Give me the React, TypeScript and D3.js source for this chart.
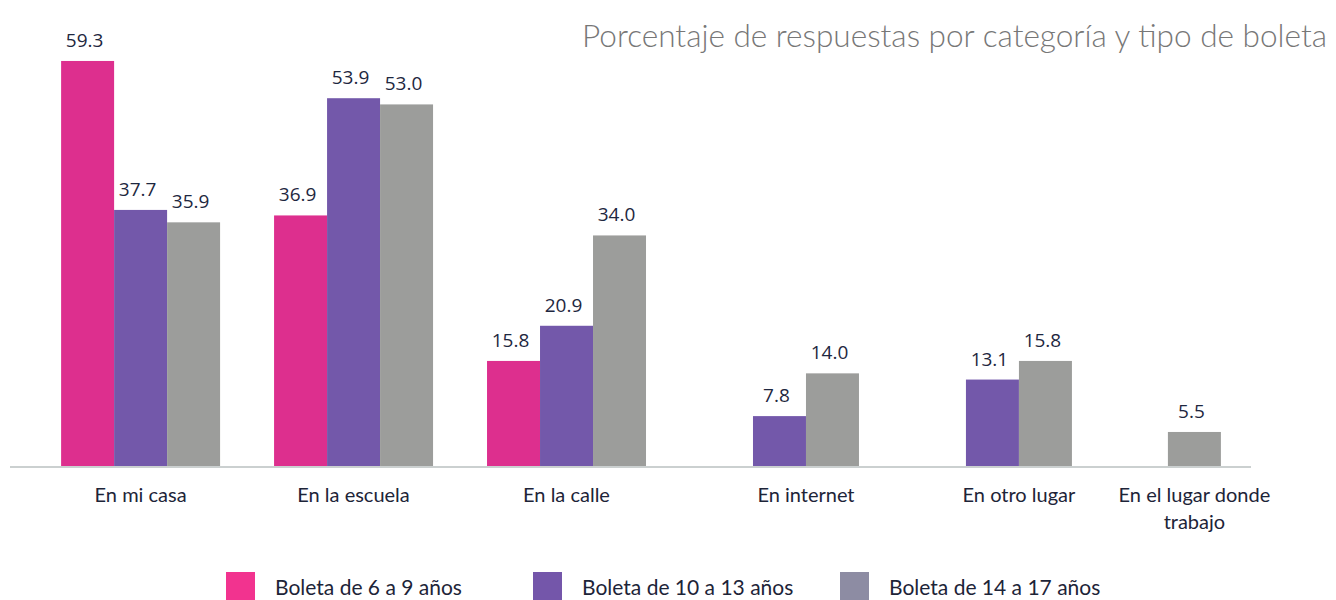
import React, { useEffect, useRef } from "react";
import * as d3 from "d3";

const categories = [
  "En mi casa",
  "En la escuela",
  "En la calle",
  "En internet",
  "En otro lugar",
  "En el lugar donde trabajo",
];
const seriesNames = ["Boleta de 6 a 9 años", "Boleta de 10 a 13 años", "Boleta de 14 a 17 años"];
// null = la boleta no tiene esa opción
const boleta6a9 = [59.3, 36.9, 15.8, null, null, null];
const boleta10a13 = [37.7, 53.9, 20.9, 7.8, 13.1, null];
const boleta14a17 = [35.9, 53.0, 34.0, 14.0, 15.8, 5.5];
const barColors = ["#dd2f8e", "#7358aa", "#9c9d9b"];
const legendColors = ["#f2338f", "#7456aa", "#8d8ca3"];

const W = 1336;
const H = 600;
const FONT = "Lato, 'Liberation Sans', sans-serif";

function App() {
  const ref = useRef<SVGSVGElement>(null);

  useEffect(() => {
    const svg = d3.select(ref.current);
    svg.selectAll("*").remove();

    const values = [boleta6a9, boleta10a13, boleta14a17];

    const x0 = d3.scaleBand<string>()
      .domain(categories)
      .range([10, 1336])
      .paddingInner(0.2535)
      .paddingOuter(0.24);

    const x1 = d3.scaleBand<string>()
      .domain(seriesNames)
      .range([0, x0.bandwidth()]);

    const y = d3.scaleLinear().domain([0, 60]).range([469.9, 469.9 - 60 * 6.896]);
    const base = 466;

    const bars: { cat: string; s: number; v: number; x: number }[] = [];
    categories.forEach((cat, ci) => {
      const present = seriesNames.map((_, si) => si).filter((si) => values[si][ci] != null);
      present.forEach((si) => {
        let bx = x0(cat)! + x1(seriesNames[si])!;
        if (present.length === 1) bx = x0(cat)! + (x0.bandwidth() - x1.bandwidth()) / 2 - 11;
        bars.push({ cat, s: si, v: values[si][ci] as number, x: bx });
      });
    });

    svg.append("g")
      .selectAll("rect")
      .data(bars)
      .enter()
      .append("rect")
      .attr("x", (d) => d.x)
      .attr("y", (d) => y(d.v))
      .attr("width", x1.bandwidth())
      .attr("height", (d) => base - y(d.v))
      .attr("fill", (d) => barColors[d.s]);

    svg.append("g")
      .selectAll("text")
      .data(bars)
      .enter()
      .append("text")
      .attr("x", (d) => d.x + x1.bandwidth() / 2 - 3)
      .attr("y", (d) => y(d.v) - 14)
      .attr("text-anchor", "middle")
      .attr("font-family", "'Open Sans', sans-serif")
      .attr("font-size", 19)
      .attr("font-weight", 500)
      .attr("fill", "#1e2740")
      .text((d) => d.v.toFixed(1));

    // eje
    svg.append("line")
      .attr("x1", 10)
      .attr("x2", 1251)
      .attr("y1", 467)
      .attr("y2", 467)
      .attr("stroke", "#cbd0d0")
      .attr("stroke-width", 2);

    // etiquetas de categoría
    const labels = svg.append("g");
    categories.forEach((cat) => {
      const cb = bars.filter((b) => b.cat === cat);
      const cx = d3.mean(cb, (b) => b.x + x1.bandwidth() / 2)!;
      const lines = cat === "En el lugar donde trabajo" ? ["En el lugar donde", "trabajo"] : [cat];
      const t = labels.append("text")
        .attr("x", cx)
        .attr("y", 502)
        .attr("text-anchor", "middle")
        .attr("font-family", FONT)
        .attr("font-size", 20)
        .attr("fill", "#1d2438");
      lines.forEach((ln, i) => {
        t.append("tspan").attr("x", cx).attr("dy", i === 0 ? 0 : 27).text(ln);
      });
    });

    // título
    svg.append("text")
      .attr("x", 582)
      .attr("y", 47)
      .attr("font-family", FONT)
      .attr("font-size", 31.5)
      .attr("font-weight", 300)
      .attr("fill", "#777777")
      .attr("textLength", 745)
      .attr("lengthAdjust", "spacingAndGlyphs")
      .text("Porcentaje de respuestas por categoría y tipo de boleta");

    // leyenda
    const lx = d3.scaleBand<string>().domain(seriesNames).range([226, 1147]);
    const lg = svg.append("g")
      .selectAll("g")
      .data(seriesNames)
      .enter()
      .append("g")
      .attr("transform", (d) => `translate(${lx(d)},572)`);
    lg.append("rect")
      .attr("width", 29)
      .attr("height", 30)
      .attr("fill", (_, i) => legendColors[i]);
    lg.append("text")
      .attr("x", 49)
      .attr("y", 23)
      .attr("font-family", FONT)
      .attr("font-size", 21)
      .attr("fill", "#1d2438")
      .text((d) => d);
  }, []);

  return (
    <svg
      ref={ref}
      width={W}
      height={H}
      style={{ position: "absolute", left: 0, top: 0, background: "#fff" }}
    />
  );
}

export default App;
